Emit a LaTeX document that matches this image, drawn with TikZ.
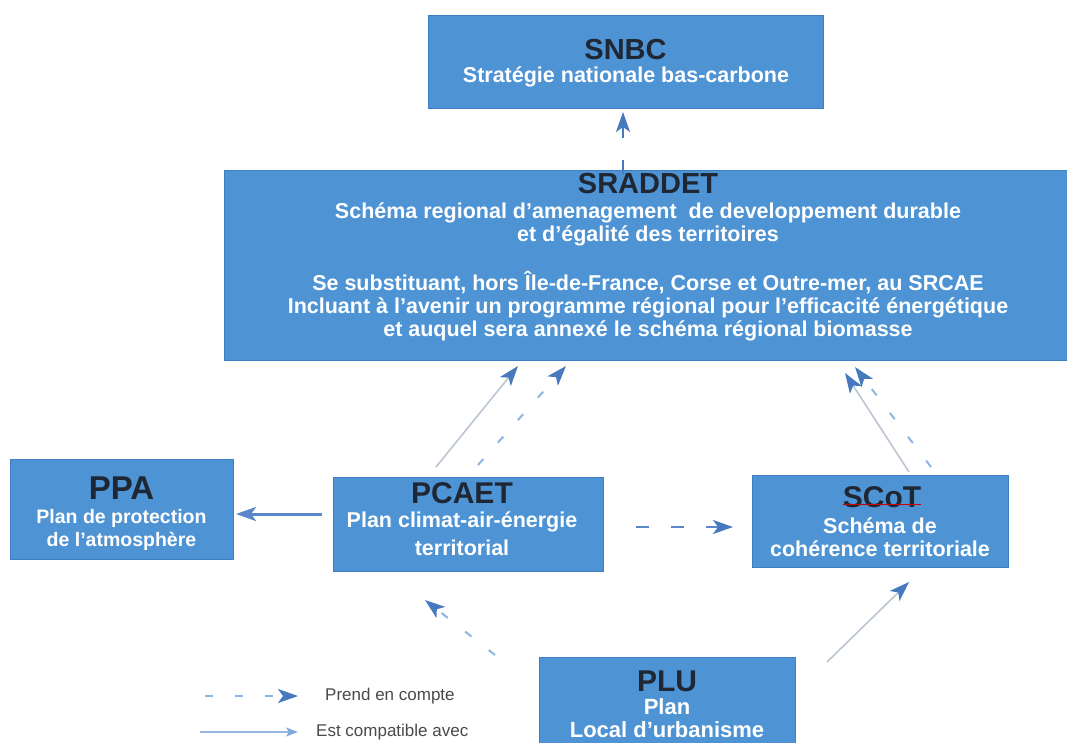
\documentclass[tikz,border=0pt]{standalone}
\usepackage{fontspec}
\setmainfont{Liberation Sans}
\usetikzlibrary{arrows.meta}
\definecolor{boxblue}{HTML}{4E93D4}
\definecolor{boxedge}{HTML}{3D7FC2}
\definecolor{titleink}{HTML}{1E2733}
\definecolor{tipblue}{HTML}{4779BF}
\definecolor{dashblue}{HTML}{8DB5E5}
\definecolor{compgray}{HTML}{BCC6D2}
\definecolor{linkblue}{HTML}{5B87C9}
\definecolor{legendink}{HTML}{4A4A4A}
\begin{document}
\begin{tikzpicture}[x=1pt,y=-1pt,
  bloc/.style={draw=boxedge, line width=0.8pt, fill=boxblue, inner sep=0pt},
  titre/.style={font=\bfseries\fontsize{#1}{#1}\selectfont, text=titleink, inner sep=0pt},
  sous/.style={font=\bfseries\fontsize{#1}{23}\selectfont, text=white, align=center, inner sep=0pt},
  bigtip/.style={-{Stealth[length=20pt,width=14pt,inset=5pt,color=#1]}},
  prend/.style={draw=dashblue, line width=2pt, dash pattern=on 8pt off 22pt, bigtip=tipblue},
  compat/.style={draw=compgray, line width=1.6pt, bigtip=tipblue},
  legtext/.style={font=\fontsize{17}{17}\selectfont, text=legendink, anchor=west, inner sep=0pt}
]
\useasboundingbox (0,0) rectangle (1067,742);
\fill[white] (0,0) rectangle (1067,742);

% boxes
\node[bloc, minimum width=395pt, minimum height=93pt] (snbc) at (625.5,61.5) {};
\node[bloc, minimum width=843pt, minimum height=190pt] (sraddet) at (645.5,265) {};
\node[bloc, minimum width=223pt, minimum height=100pt] (ppa) at (121.5,509) {};
\node[bloc, minimum width=270pt, minimum height=94pt] (pcaet) at (468,524) {};
\node[bloc, minimum width=256pt, minimum height=92pt] (scot) at (880,521) {};
\node[bloc, minimum width=256pt, minimum height=92pt] (plu) at (667.5,703) {};

% SNBC
\node[titre=29] (snbc-t) at (625.5,50) {SNBC};
\node[sous=21.5] (snbc-s) at (626,77) {Stratégie nationale bas-carbone};

% SRADDET
\node[titre=29] (sraddet-t) at (648,184) {SRADDET};
\node[sous=21.5] (sraddet-a) at (648,224) {Schéma regional d’amenagement\ \ de developpement durable\\et d’égalité des territoires};
\node[sous=21.5] (sraddet-b) at (648,306) {Se substituant, hors Île-de-France, Corse et Outre-mer, au SRCAE\\Incluant à l’avenir un programme régional pour l’efficacité énergétique\\et auquel sera annexé le schéma régional biomasse};

% PPA
\node[titre=33] (ppa-t) at (121.5,488) {PPA};
\node[sous=19.5] (ppa-s) at (121.5,530) {Plan de protection\\de l’atmosphère};

% PCAET
\node[titre=30] (pcaet-t) at (462,493) {PCAET};
\node[sous=21.5] (pcaet-s) at (462,534) {Plan climat-air-énergie\\[5pt]territorial};

% SCoT
\node[titre=30] (scot-t) at (882,497) {SCoT};
\draw[red!80!black, line width=0.8pt] ([yshift=3pt]scot-t.south west) -- ([yshift=3pt]scot-t.south east);
\node[sous=21.5] (scot-s) at (880,537) {Schéma de\\cohérence territoriale};

% PLU
\node[titre=30] (plu-t) at (667,681) {PLU};
\node[sous=22] (plu-s) at (667,718) {Plan\\Local d’urbanisme};

% connector end points
\coordinate (sr-up) at (623,174);
\coordinate (snbc-in) at (623,112);
\coordinate (pc-a) at (436,467);
\coordinate (pc-b) at (478,465);
\coordinate (sr-a) at (518,366);
\coordinate (sr-b) at (566,366);
\coordinate (sc-a) at (909,472);
\coordinate (sc-b) at (931,467);
\coordinate (sr-c) at (845,373);
\coordinate (sr-d) at (855,367);
\coordinate (pc-l) at (322,514);
\coordinate (ppa-r) at (236,514);
\coordinate (pc-r) at (636,527);
\coordinate (sc-l) at (733,527);
\coordinate (plu-l) at (495,655);
\coordinate (pc-d) at (425,600);
\coordinate (plu-r) at (827,662);
\coordinate (sc-d) at (909,582);

% connectors
\draw[draw=tipblue, line width=2pt, dash pattern=on 14pt off 22pt on 30pt, bigtip=tipblue] (sr-up) -- (snbc-in);
\draw[compat] (pc-a) -- (sr-a);
\draw[prend] (pc-b) -- (sr-b);
\draw[compat] (sc-a) -- (sr-c);
\draw[prend] (sc-b) -- (sr-d);
\draw[draw=linkblue, line width=3pt, bigtip=linkblue] (pc-l) -- (ppa-r);
\draw[prend, draw=linkblue, dash pattern=on 13pt off 22pt] (pc-r) -- (sc-l);
\draw[prend] (plu-l) -- (pc-d);
\draw[compat] (plu-r) -- (sc-d);

% legend
\coordinate (lg-a0) at (205,696);
\coordinate (lg-a1) at (298,696);
\coordinate (lg-b0) at (200,732);
\coordinate (lg-b1) at (298,732);
\draw[prend] (lg-a0) -- (lg-a1);
\draw[draw=dashblue!80!compgray, line width=1.6pt, -{Stealth[length=12pt,width=9pt,inset=3pt,color=dashblue!80!tipblue]}] (lg-b0) -- (lg-b1);
\node[legtext] (lg-a) at (325,696) {Prend en compte};
\node[legtext] (lg-b) at (316,732) {Est compatible avec};
\end{tikzpicture}
\end{document}
